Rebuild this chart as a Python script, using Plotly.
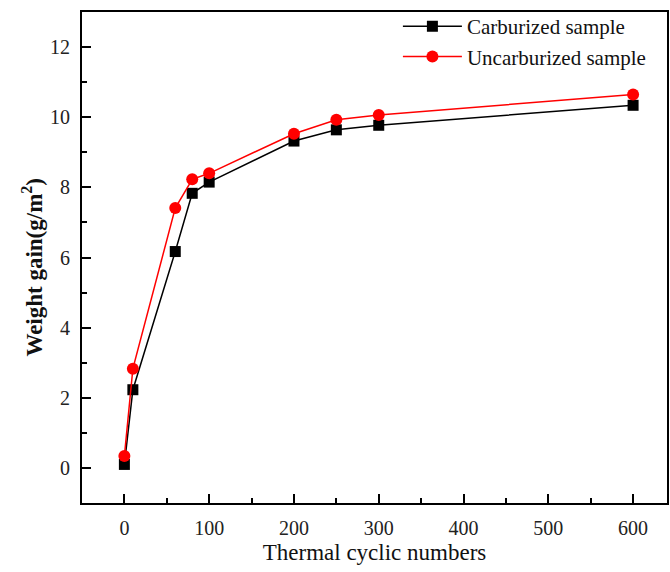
import plotly.graph_objects as go

# Thermal cycling weight gain data
cycles = [0, 10, 60, 80, 100, 200, 250, 300, 600]
carburized = [0.10, 2.23, 6.17, 7.83, 8.15, 9.32, 9.64, 9.77, 10.34]
uncarburized = [0.34, 2.83, 7.41, 8.23, 8.40, 9.53, 9.93, 10.06, 10.65]

x_ticks = [0, 100, 200, 300, 400, 500, 600]
y_ticks = [0, 2, 4, 6, 8, 10, 12]

FONT = "Liberation Serif, Times New Roman, serif"

fig = go.Figure()
fig.add_trace(go.Scatter(
    x=cycles, y=carburized, mode="lines+markers", name="Carburized sample",
    line=dict(color="black", width=1.5),
    marker=dict(symbol="square", size=11, color="black"),
))
fig.add_trace(go.Scatter(
    x=cycles, y=uncarburized, mode="lines+markers", name="Uncarburized sample",
    line=dict(color="#ff0000", width=1.5),
    marker=dict(symbol="circle", size=12, color="#ff0000"),
))

axis_common = dict(
    showline=True, linecolor="black", linewidth=2, mirror=True,
    ticks="inside", ticklen=9, tickwidth=2, tickcolor="black",
    showgrid=False, zeroline=False,
    tickfont=dict(family=FONT, size=20, color="#222"),
)

fig.update_xaxes(
    range=[-50, 640], tickvals=x_ticks,
    minor=dict(ticks="inside", ticklen=5, tickwidth=2, tickcolor="black", dtick=50, tick0=0),
    title=dict(text="Thermal cyclic numbers", font=dict(family=FONT, size=23, color="#111"), standoff=6),
    ticklabelstandoff=6,
    **axis_common,
)
fig.update_yaxes(
    range=[-1, 13], tickvals=y_ticks,
    minor=dict(ticks="inside", ticklen=5, tickwidth=2, tickcolor="black", dtick=1, tick0=0),
    ticklabelstandoff=6,
    **axis_common,
)

# Y axis title, placed as a rotated annotation left of the tick labels
fig.add_annotation(
    text="<b>Weight gain(g/m<sup>2</sup>)</b>",
    xref="paper", yref="paper", x=-0.085, y=0.48,
    xanchor="center", yanchor="middle", textangle=-90, showarrow=False,
    font=dict(family=FONT, size=23, color="#111"),
)

fig.update_layout(
    width=670, height=572,
    margin=dict(l=82, r=1, t=12, b=69),
    paper_bgcolor="white", plot_bgcolor="white",
    showlegend=True,
    legend=dict(
        x=0.54, y=1.012, xanchor="left", yanchor="top",
        bgcolor="rgba(0,0,0,0)", borderwidth=0,
        font=dict(family=FONT, size=21, color="#111"),
        itemwidth=59, tracegroupgap=0,
    ),
)

fig.write_html("out.html")
